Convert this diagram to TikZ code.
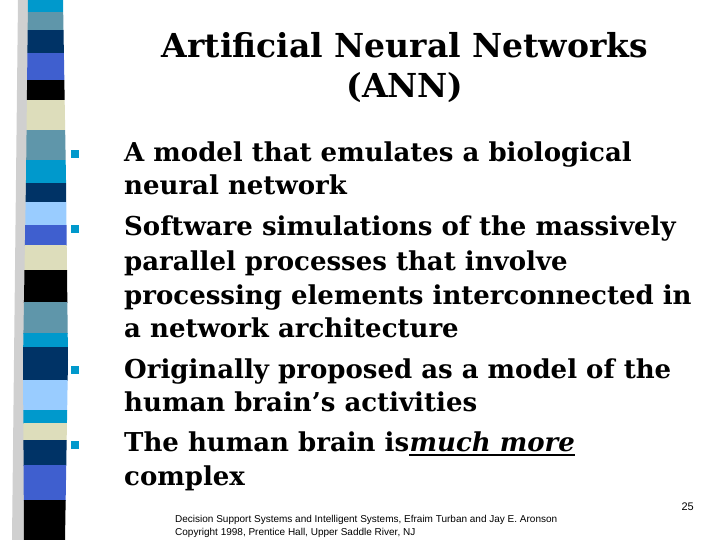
\documentclass[tikz,border=0pt]{standalone}
\usepackage{fontspec}
\setmainfont{DejaVu Serif}
\newfontfamily\footfont{Liberation Sans}
\definecolor{cA}{HTML}{0099CC}
\definecolor{cB}{HTML}{5F96AA}
\definecolor{cC}{HTML}{003366}
\definecolor{cD}{HTML}{3F5FCF}
\definecolor{cE}{HTML}{000000}
\definecolor{cF}{HTML}{DDDDBB}
\definecolor{cG}{HTML}{99CCFF}
\tikzset{body/.style={anchor=base west,inner sep=0pt,font=\fontsize{26}{30}\bfseries},
 bul/.style={fill=cA,minimum size=7.5pt,inner sep=0pt}}
\begin{document}
\begin{tikzpicture}[x=1pt,y=-1pt]
\useasboundingbox (0,0) rectangle (720,540);
\fill[white] (0,0) rectangle (720,540);
\fill[black!30,opacity=0.6] (18,0) -- (30,0) -- (26,540) -- (12,540) -- cycle;
\begin{scope}
\clip (28,0) -- (63,0) -- (66,180) -- (68,360) -- (65,540) -- (24,540) -- (23,360) -- (26,180) -- cycle;
\foreach \a/\b/\c in {0/12/cA,12/30/cB,30/53/cC,53/80/cD,80/100/cE,100/130/cF,130/160/cB,160/183/cA,183/202/cC,202/225/cG,225/245/cD,245/270/cF,270/302/cE,302/333/cB,333/347/cA,347/380/cC,380/410/cG,410/423/cA,423/440/cF,440/465/cC,465/500/cD,500/540/cE}
 \fill[\c] (0,\a) rectangle (100,\b+0.5);
\end{scope}
\node[font=\fontsize{33}{40}\bfseries,align=center,inner sep=0pt] (title) at (405,68) {Artificial Neural Networks\\(ANN)};
\node[bul] (b1) at (75,154) {};
\node[bul] (b2) at (75,229) {};
\node[bul] (b3) at (75,370) {};
\node[bul] (b4) at (75,445) {};
\node[body] (t1) at (124,162) {A model that emulates a biological};
\node[body] (t2) at (124,195) {neural network};
\node[body] (t3) at (124,236) {Software simulations of the massively};
\node[body] (t4) at (124,270) {parallel processes that involve};
\node[body] (t5) at (124,304) {processing elements interconnected in};
\node[body] (t6) at (124,337) {a network architecture};
\node[body] (t7) at (124,378) {Originally proposed as a model of the};
\node[body] (t8) at (124,411) {human brain’s activities};
\node[body] (t9) at (124,451) {The human brain is\ };
\node[body,font=\fontsize{26}{30}\bfseries\itshape] (t9b) at (t9.base east) {much more};
\draw[line width=1.5pt] ([yshift=-4pt]t9b.base west) -- ([yshift=-4pt]t9b.base east);
\node[body] (t10) at (124,485) {complex};
\node[anchor=base east,inner sep=0pt,font=\footfont\fontsize{11}{13}\selectfont] (pg) at (694,510) {25};
\node[anchor=base west,inner sep=0pt,font=\footfont\fontsize{10}{12}\selectfont] (f1) at (175,522) {Decision Support Systems and Intelligent Systems, Efraim Turban and Jay E. Aronson};
\node[anchor=base west,inner sep=0pt,font=\footfont\fontsize{10}{12}\selectfont] (f2) at (175,535) {Copyright 1998, Prentice Hall, Upper Saddle River, NJ};
\end{tikzpicture}
\end{document}
